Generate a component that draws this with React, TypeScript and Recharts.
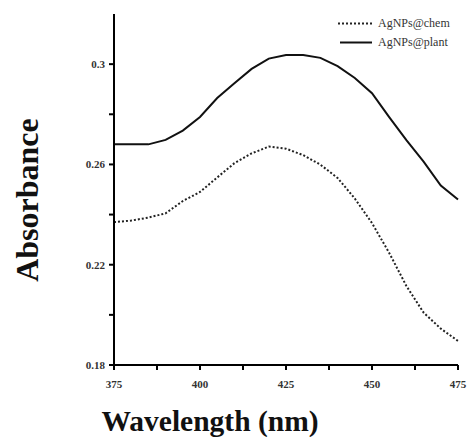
import React from 'react';
import { LineChart, Line, XAxis, YAxis } from 'recharts';

const wavelengths = [375, 380, 385, 390, 395, 400, 405, 410, 415, 420, 425, 430, 435, 440, 445, 450, 455, 460, 465, 470, 475];
const chemValues = [0.237, 0.2376, 0.2388, 0.2405, 0.2454, 0.249, 0.2548, 0.2605, 0.2644, 0.2671, 0.2663, 0.2637, 0.2599, 0.2546, 0.2464, 0.2366, 0.2247, 0.2115, 0.2009, 0.1945, 0.1896];
const plantValues = [0.268, 0.268, 0.268, 0.2698, 0.2735, 0.2789, 0.2865, 0.2924, 0.2981, 0.3022, 0.3036, 0.3036, 0.3025, 0.2992, 0.2945, 0.2884, 0.2789, 0.2697, 0.2611, 0.2516, 0.246];

const xTicks = [375, 387.5, 400, 412.5, 425, 437.5, 450, 462.5, 475];
const xLabeled = [375, 400, 425, 450, 475];
const yTicks = [0.18, 0.2, 0.22, 0.24, 0.26, 0.28, 0.3];
const yLabels: Record<string, string> = { '0.18': '0.18', '0.22': '0.22', '0.26': '0.26', '0.3': '0.3' };

const seriesNames = ['AgNPs@chem', 'AgNPs@plant'];

const data = wavelengths.map((wl, i) => ({ wl, chem: chemValues[i], plant: plantValues[i] }));

const tickFont = '"Liberation Serif", "Times New Roman", serif';

const xLabelFmt = (v: number) => (xLabeled.includes(v) ? String(v) : '');
const yLabelFmt = (v: number) => yLabels[String(Math.round(v * 100) / 100)] || '';

export default function App() {
  return (
    <div style={{ position: 'absolute', left: 0, top: 0, width: 468, height: 437, background: '#fff' }}>
      <LineChart width={468} height={437} data={data} margin={{ top: 14, right: 10, bottom: 0, left: 0 }}>
        <XAxis
          dataKey="wl"
          type="number"
          domain={[375, 475]}
          ticks={xTicks}
          height={72}
          tickFormatter={xLabelFmt}
          tick={{ fontFamily: tickFont, fontSize: 11, fontWeight: 'bold', fill: '#333', dy: 6 }}
          tickSize={5}
          tickMargin={4}
          tickLine={{ stroke: '#000', strokeWidth: 2 }}
          axisLine={{ stroke: '#000', strokeWidth: 2 }}
          label={{
            content: () => (
              <text x={210} y={421} textAnchor="middle" dominantBaseline="central" fontFamily={tickFont} fontSize={29.5} fontWeight="bold" fill="#111">
                Wavelength (nm)
              </text>
            ),
          }}
        />
        <YAxis
          type="number"
          domain={[0.18, 0.32]}
          ticks={yTicks}
          width={114}
          tickFormatter={yLabelFmt}
          tick={{ fontFamily: tickFont, fontSize: 11, fontWeight: 'bold', fill: '#333' }}
          tickSize={5}
          tickMargin={4}
          tickLine={{ stroke: '#000', strokeWidth: 2 }}
          axisLine={{ stroke: '#000', strokeWidth: 2 }}
          allowDataOverflow
          label={{
            content: () => (
              <text x={27} y={200} transform="rotate(-90 27 200)" textAnchor="middle" dominantBaseline="central" fontFamily={tickFont} fontSize={32} fontWeight="bold" fill="#111">
                Absorbance
              </text>
            ),
          }}
        />
        <Line dataKey="chem" name={seriesNames[0]} type="linear" stroke="#222" strokeWidth={2} strokeDasharray="2 2" dot={false} isAnimationActive={false} />
        <Line dataKey="plant" name={seriesNames[1]} type="linear" stroke="#111" strokeWidth={2} dot={false} isAnimationActive={false} />
      </LineChart>
      <div style={{ position: 'absolute', left: 336, top: 14, fontFamily: tickFont, fontSize: 12, color: '#333', lineHeight: '19px' }}>
        <div style={{ display: 'flex', alignItems: 'center' }}>
          <svg width={38} height={19}><line x1={2} y1={9.5} x2={36} y2={9.5} stroke="#222" strokeWidth={2} strokeDasharray="2 2" /></svg>
          <span style={{ marginLeft: 4 }}>{seriesNames[0]}</span>
        </div>
        <div style={{ display: 'flex', alignItems: 'center' }}>
          <svg width={38} height={19}><line x1={4} y1={9.5} x2={36} y2={9.5} stroke="#111" strokeWidth={2} /></svg>
          <span style={{ marginLeft: 4 }}>{seriesNames[1]}</span>
        </div>
      </div>
    </div>
  );
}
